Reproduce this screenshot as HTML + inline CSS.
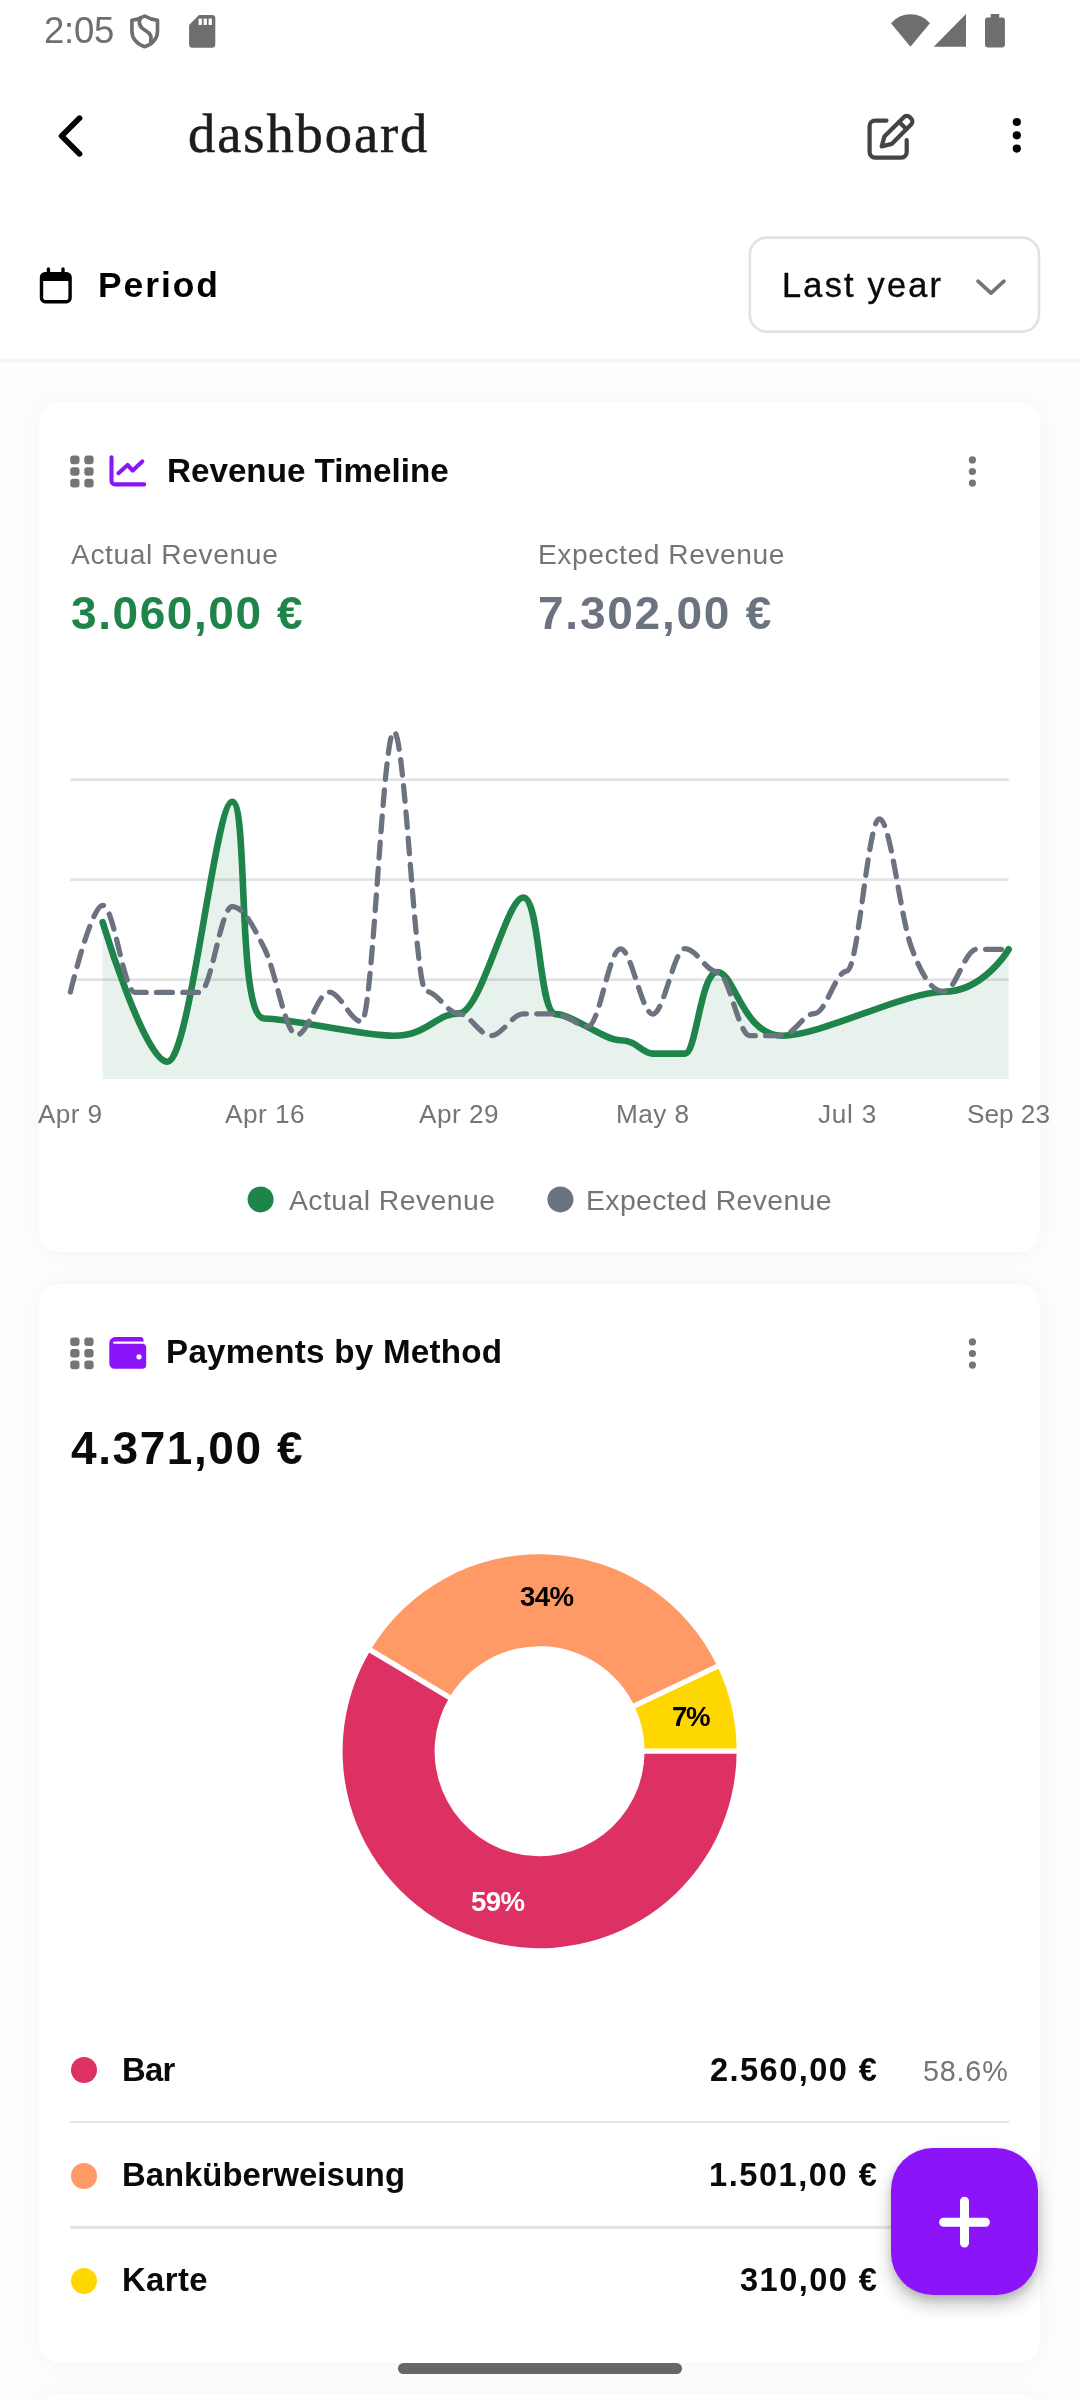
<!DOCTYPE html>
<html lang="en"><head><meta charset="utf-8"><title>dashboard</title>
<meta name="viewport" content="width=1080">
<style>
html,body{margin:0;padding:0}
body{width:1080px;height:2400px;position:relative;overflow:hidden;background:#fff;font-family:"Liberation Sans",sans-serif}
.t{position:absolute;white-space:nowrap;line-height:1;display:block;will-change:transform}
.abs{position:absolute}
.card{position:absolute;left:39px;width:1001px;background:#fff;border-radius:21px;box-shadow:0 0 22px 5px rgba(0,0,0,.034)}
svg{position:absolute;left:0;top:0;overflow:visible}
.divider{position:absolute;left:70px;width:939px;height:2.6px;background:#e4e4e4}
</style></head><body>

<div class="abs" id="scroll-bg" style="left:0;top:362px;width:1080px;height:2038px;background:#fefefe"></div>
<div class="abs" id="header-sep" style="left:0;top:359px;width:1080px;height:3px;background:#f6f6f6"></div>
<div class="card" id="card-revenue" style="top:402px;height:850px"></div>
<div class="card" id="card-payments" style="top:1284px;height:1078.5px"></div>
<div class="card" id="card-next" style="top:2394px;height:200px"></div>
<span class="t" style="left:44.30px;top:12.90px;font:400 36.5px/1 'Liberation Sans', sans-serif;color:#6e6e6e;letter-spacing:-0.260px;">2:05</span>
<svg id="status-icons" width="1080" height="70" viewBox="0 0 1080 70">
<g fill="none" stroke="#6e6e6e" stroke-width="3.6" stroke-linejoin="round" stroke-linecap="round">
<path d="M144.7,16 C149,18.6 153,19.8 157.5,20.2 V31 C157.5,39 151.5,44.2 144.7,46.8 C137.9,44.2 131.9,39 131.9,31 V20.2 C136.4,19.8 140.4,18.6 144.7,16Z"/>
<path d="M140.6,17.6 C137.6,23.5 140.2,27.6 145.6,30.6 C150.6,33.4 152.2,36.6 150.6,41.6"/>
</g>
<path fill="#6e6e6e" d="M199,15.1 H212 a3.3,3.3 0 0 1 3.3,3.3 V44.4 a3.3,3.3 0 0 1 -3.3,3.3 H192.4 a3.3,3.3 0 0 1 -3.3,-3.3 V25.1 Z"/>
<g fill="#fff"><rect x="198.6" y="18.6" width="3.3" height="6.4"/><rect x="203.6" y="18.6" width="3.3" height="6.4"/><rect x="208.6" y="18.6" width="3.3" height="6.4"/></g>
<path fill="#6e6e6e" d="M910.4,46.8 L891,23.2 A25.6,25.6 0 0 1 930,23.2 Z"/>
<path fill="#6e6e6e" d="M933.7,46.7 H966 V14 Z"/>
<path fill="#6e6e6e" d="M990.7,14 h8.5 v3.5 h3.3 a2.4,2.4 0 0 1 2.4,2.4 v25.1 a2.4,2.4 0 0 1 -2.4,2.4 h-15.1 a2.4,2.4 0 0 1 -2.4,-2.4 v-25.1 a2.4,2.4 0 0 1 2.4,-2.4 h3.3 Z"/>
</svg>
<svg id="appbar-icons" width="1080" height="200" viewBox="0 0 1080 200">
<path d="M79.6,118.1 L61.6,136 L79.6,153.9" fill="none" stroke="#000" stroke-width="5.6" stroke-linecap="round" stroke-linejoin="round"/>
<g fill="none" stroke="#444" stroke-width="4.2" stroke-linecap="round" stroke-linejoin="round">
<path d="M886.5,120.6 H875 a5.4,5.4 0 0 0 -5.4,5.4 V152.2 a5.4,5.4 0 0 0 5.4,5.4 H901.3 a5.4,5.4 0 0 0 5.4,-5.4 V140.2"/>
<path d="M881.7,146.4 L884.4,136.6 L903.8,117.2 a4.3,4.3 0 0 1 6.1,0 l1.2,1.2 a4.3,4.3 0 0 1 0,6.1 L891.7,143.9 Z"/>
<path d="M899.2,121.9 L906.3,129"/>
</g>
<g fill="#000"><circle cx="1016.8" cy="122" r="4.1"/><circle cx="1016.8" cy="135.3" r="4.1"/><circle cx="1016.8" cy="148.6" r="4.1"/></g>
</svg>
<span class="t" style="left:187.60px;top:106.96px;font:400 54.5px/1 'Liberation Serif', serif;color:#1d1d1d;letter-spacing:1.913px;-webkit-text-stroke:0.55px #1d1d1d">dashboard</span>
<svg id="period-icons" width="1080" height="360" viewBox="0 0 1080 360">
<g fill="none" stroke="#000" stroke-width="3.4" stroke-linejoin="round">
<rect x="41.5" y="273.7" width="28.6" height="28" rx="3.6"/>
</g>
<path d="M41.5,281 V277 a3.4,3.4 0 0 1 3.4,-3.4 H66.7 a3.4,3.4 0 0 1 3.4,3.4 V281 Z" fill="#000"/>
<path d="M48.4,268.9 V275 M63,268.9 V275" stroke="#000" stroke-width="3.4" stroke-linecap="round"/>
<rect x="749.8" y="237.6" width="289.2" height="94" rx="17" fill="#fff" stroke="#e2e2e2" stroke-width="2.6"/>
<path d="M978,281.2 L991,293.2 L1004,281.2" fill="none" stroke="#757575" stroke-width="3.7" stroke-linecap="round" stroke-linejoin="round"/>
</svg>
<span class="t" style="left:98.00px;top:268.03px;font:700 35.4px/1 'Liberation Sans', sans-serif;color:#000;letter-spacing:1.940px;">Period</span>
<span class="t" style="left:782.20px;top:268.37px;font:400 34.3px/1 'Liberation Sans', sans-serif;color:#0a0a0a;letter-spacing:2.246px;-webkit-text-stroke:0.4px #0a0a0a">Last year</span>
<svg id="card1-icons" width="1080" height="700" viewBox="0 0 1080 700">
<g fill="#757575"><rect x="70.2" y="455.6" width="9.3" height="8.6" rx="3"/><rect x="70.2" y="467.2" width="9.3" height="8.6" rx="3"/><rect x="70.2" y="478.8" width="9.3" height="8.6" rx="3"/><rect x="84.3" y="455.6" width="9.3" height="8.6" rx="3"/><rect x="84.3" y="467.2" width="9.3" height="8.6" rx="3"/><rect x="84.3" y="478.8" width="9.3" height="8.6" rx="3"/></g>
<g fill="none" stroke="#8b14f9" stroke-width="4.1" stroke-linecap="round" stroke-linejoin="round">
<path d="M111.5,457.2 V481 a3.4,3.4 0 0 0 3.4,3.4 H144.2"/>
<path d="M118.4,473.2 L127.6,465 L132.7,470.6 L142.3,461.4"/>
</g>
<circle cx="972.4" cy="459.9" r="3.6" fill="#757575"/><circle cx="972.4" cy="471.5" r="3.6" fill="#757575"/><circle cx="972.4" cy="483.1" r="3.6" fill="#757575"/>
</svg>
<span class="t" style="left:166.60px;top:453.60px;font:700 33.2px/1 'Liberation Sans', sans-serif;color:#0a0a0a;letter-spacing:0.006px;">Revenue Timeline</span>
<span class="t" style="left:71.20px;top:540.43px;font:400 28.2px/1 'Liberation Sans', sans-serif;color:#757575;letter-spacing:0.600px;">Actual Revenue</span>
<span class="t" style="left:537.60px;top:540.43px;font:400 28.2px/1 'Liberation Sans', sans-serif;color:#757575;letter-spacing:0.544px;">Expected Revenue</span>
<span class="t" style="left:70.80px;top:590.16px;font:700 46px/1 'Liberation Sans', sans-serif;color:#1e8449;letter-spacing:1.578px;">3.060,00 €</span>
<span class="t" style="left:538.00px;top:590.16px;font:700 46px/1 'Liberation Sans', sans-serif;color:#6b7280;letter-spacing:1.758px;">7.302,00 €</span>
<svg id="revenue-chart" width="1080" height="1300" viewBox="0 0 1080 1300">
<g stroke="#e3e3e3" stroke-width="2.6">
<line x1="70.3" y1="779.6" x2="1008.7" y2="779.6"/><line x1="70.3" y1="879.6" x2="1008.7" y2="879.6"/><line x1="70.3" y1="979.6" x2="1008.7" y2="979.6"/>
</g>
<path d="M102.66,922.20C102.66,922.20 144.72,1061.70 167.38,1061.70C190.03,1061.70 215.10,801.80 232.09,801.80C249.08,801.80 236.14,1018.50 264.45,1018.50C292.77,1018.50 359.91,1035.80 393.89,1035.80C427.86,1035.80 435.95,1013.40 458.60,1013.40C481.25,1013.40 506.33,897.50 523.32,897.50C540.31,897.50 538.69,1014.10 555.68,1014.10C572.67,1014.10 603.41,1040.30 620.40,1040.30C637.38,1040.30 641.43,1053.60 652.76,1053.60C664.08,1053.60 673.79,1053.60 685.11,1053.60C696.44,1053.60 700.48,972.00 717.47,972.00C734.46,972.00 742.55,1035.70 782.19,1035.70C821.83,1035.70 904.34,991.70 943.98,991.70C983.62,991.70 1008.70,949.30 1008.70,949.30L1008.70,1079L102.66,1079Z" fill="#1e8449" fill-opacity="0.1"/>
<path d="M102.66,922.20C102.66,922.20 144.72,1061.70 167.38,1061.70C190.03,1061.70 215.10,801.80 232.09,801.80C249.08,801.80 236.14,1018.50 264.45,1018.50C292.77,1018.50 359.91,1035.80 393.89,1035.80C427.86,1035.80 435.95,1013.40 458.60,1013.40C481.25,1013.40 506.33,897.50 523.32,897.50C540.31,897.50 538.69,1014.10 555.68,1014.10C572.67,1014.10 603.41,1040.30 620.40,1040.30C637.38,1040.30 641.43,1053.60 652.76,1053.60C664.08,1053.60 673.79,1053.60 685.11,1053.60C696.44,1053.60 700.48,972.00 717.47,972.00C734.46,972.00 742.55,1035.70 782.19,1035.70C821.83,1035.70 904.34,991.70 943.98,991.70C983.62,991.70 1008.70,949.30 1008.70,949.30" fill="none" stroke="#1e8449" stroke-width="6.6" stroke-linecap="round" stroke-linejoin="round"/>
<path d="M70.30,992.40C70.30,992.40 91.33,905.30 102.66,905.30C113.98,905.30 123.69,992.40 135.02,992.40C146.34,992.40 156.05,992.40 167.38,992.40C178.70,992.40 188.41,992.40 199.73,992.40C211.06,992.40 220.77,906.50 232.09,906.50C243.42,906.50 253.13,926.01 264.45,948.50C275.78,970.99 285.48,1035.00 296.81,1035.00C308.14,1035.00 317.84,992.00 329.17,992.00C340.49,992.00 350.20,1021.60 361.53,1021.60C372.85,1021.60 382.56,731.50 393.89,731.50C405.21,731.50 414.92,991.50 426.24,991.50C437.57,991.50 447.28,1013.60 458.60,1013.60C469.93,1013.60 479.64,1035.70 490.96,1035.70C502.29,1035.70 512.00,1013.80 523.32,1013.80C534.65,1013.80 544.35,1013.80 555.68,1013.80C567.00,1013.80 576.71,1026.30 588.04,1026.30C599.36,1026.30 609.07,948.80 620.40,948.80C631.72,948.80 641.43,1014.00 652.76,1014.00C664.08,1014.00 673.79,948.50 685.11,948.50C696.44,948.50 706.15,972.00 717.47,972.00C728.80,972.00 738.51,1035.70 749.83,1035.70C761.16,1035.70 770.86,1035.70 782.19,1035.70C793.52,1035.70 803.22,1013.50 814.55,1013.50C825.87,1013.50 835.58,971.00 846.91,971.00C858.23,971.00 867.94,818.80 879.27,818.80C890.59,818.80 900.30,917.74 911.62,948.00C922.95,978.26 932.66,991.70 943.98,991.70C955.31,991.70 965.02,949.30 976.34,949.30C987.67,949.30 1008.70,949.30 1008.70,949.30" fill="none" stroke="#6b7280" stroke-width="5.25" stroke-linecap="round" stroke-linejoin="round" stroke-dasharray="15.75 10.5" stroke-dashoffset="-0.6"/>
<circle cx="260.6" cy="1199.4" r="13" fill="#1e8449"/>
<circle cx="560.4" cy="1199.4" r="13" fill="#6b7280"/>
</svg>
<span class="t" style="left:38.24px;top:1101.12px;font:400 26.2px/1 'Liberation Sans', sans-serif;color:#757575;letter-spacing:0.376px;">Apr 9</span>
<span class="t" style="left:224.69px;top:1101.12px;font:400 26.2px/1 'Liberation Sans', sans-serif;color:#757575;letter-spacing:0.468px;">Apr 16</span>
<span class="t" style="left:418.84px;top:1101.12px;font:400 26.2px/1 'Liberation Sans', sans-serif;color:#757575;letter-spacing:0.468px;">Apr 29</span>
<span class="t" style="left:616.22px;top:1101.12px;font:400 26.2px/1 'Liberation Sans', sans-serif;color:#757575;letter-spacing:0.431px;">May 8</span>
<span class="t" style="left:817.77px;top:1101.12px;font:400 26.2px/1 'Liberation Sans', sans-serif;color:#757575;letter-spacing:0.731px;">Jul 3</span>
<span class="t" style="left:967.20px;top:1101.12px;font:400 26.2px/1 'Liberation Sans', sans-serif;color:#757575;letter-spacing:-0.007px;">Sep 23</span>
<span class="t" style="left:288.80px;top:1186.26px;font:400 28.4px/1 'Liberation Sans', sans-serif;color:#757575;letter-spacing:0.428px;">Actual Revenue</span>
<span class="t" style="left:585.50px;top:1186.26px;font:400 28.4px/1 'Liberation Sans', sans-serif;color:#757575;letter-spacing:0.376px;">Expected Revenue</span>
<svg id="card2-icons" width="1080" height="1500" viewBox="0 0 1080 1500">
<g fill="#757575"><rect x="70.2" y="1337.4" width="9.3" height="8.6" rx="3"/><rect x="70.2" y="1349.0" width="9.3" height="8.6" rx="3"/><rect x="70.2" y="1360.6" width="9.3" height="8.6" rx="3"/><rect x="84.3" y="1337.4" width="9.3" height="8.6" rx="3"/><rect x="84.3" y="1349.0" width="9.3" height="8.6" rx="3"/><rect x="84.3" y="1360.6" width="9.3" height="8.6" rx="3"/></g>
<path fill="#8b14f9" d="M109.3,1343 a6,6 0 0 1 6,-6 H140.5 a3,3 0 0 1 3,3 V1343.8 H142.2 a4,4 0 0 1 4,4 V1364.8 a4,4 0 0 1 -4,4 H114.5 a5.2,5.2 0 0 1 -5.2,-5.2 Z"/>
<path d="M114.2,1342.6 H142.6" stroke="#fff" stroke-width="2.4" stroke-linecap="round"/>
<circle cx="139" cy="1356.8" r="2.6" fill="#fff"/>
<circle cx="972.4" cy="1341.9" r="3.6" fill="#757575"/><circle cx="972.4" cy="1353.5" r="3.6" fill="#757575"/><circle cx="972.4" cy="1365.1" r="3.6" fill="#757575"/>
</svg>
<span class="t" style="left:166.40px;top:1335.30px;font:700 33.2px/1 'Liberation Sans', sans-serif;color:#0a0a0a;letter-spacing:0.246px;">Payments by Method</span>
<span class="t" style="left:71.20px;top:1425.16px;font:700 46px/1 'Liberation Sans', sans-serif;color:#0a0a0a;letter-spacing:1.578px;">4.371,00 €</span>
<svg id="payments-donut" width="1080" height="2000" viewBox="0 0 1080 2000">
<path fill="#de3163" d="M736.60,1751.20A197.0,197.0 0 1 1 370.46,1650.20L449.45,1697.37A105.0,105.0 0 1 0 644.60,1751.20Z"/><path fill="#ff9966" d="M370.46,1650.20A197.0,197.0 0 0 1 717.36,1666.29L634.35,1705.94A105.0,105.0 0 0 0 449.45,1697.37Z"/><path fill="#ffd700" d="M717.36,1666.29A197.0,197.0 0 0 1 736.60,1751.20L644.60,1751.20A105.0,105.0 0 0 0 634.35,1705.94Z"/><g stroke="#fff" stroke-width="5.3"><line x1="640.60" y1="1751.20" x2="740.60" y2="1751.20"/><line x1="452.88" y1="1699.42" x2="367.03" y2="1648.15"/><line x1="630.74" y1="1707.67" x2="720.97" y2="1664.57"/></g>
</svg>
<span class="t" style="left:471.21px;top:1887.74px;font:700 27.6px/1 'Liberation Sans', sans-serif;color:#fff;letter-spacing:-0.580px;">59%</span>
<span class="t" style="left:519.77px;top:1582.50px;font:700 27.6px/1 'Liberation Sans', sans-serif;color:#000;letter-spacing:-0.580px;">34%</span>
<span class="t" style="left:672.03px;top:1703.48px;font:700 27.6px/1 'Liberation Sans', sans-serif;color:#000;letter-spacing:-1.445px;">7%</span>
<div class="abs" style="left:70.5px;top:2057px;width:26px;height:26px;border-radius:50%;background:#de3163"></div>
<span class="t" style="left:122.30px;top:2053.73px;font:700 32.8px/1 'Liberation Sans', sans-serif;color:#0a0a0a;letter-spacing:-0.731px;">Bar</span>
<span class="t" style="left:709.54px;top:2053.80px;font:700 32.6px/1 'Liberation Sans', sans-serif;color:#0a0a0a;letter-spacing:1.441px;">2.560,00 €</span>
<span class="t" style="left:922.92px;top:2057.01px;font:400 28.7px/1 'Liberation Sans', sans-serif;color:#757575;letter-spacing:0.824px;">58.6%</span>
<div class="abs" style="left:70.5px;top:2162.5px;width:26px;height:26px;border-radius:50%;background:#ff9966"></div>
<span class="t" style="left:122.30px;top:2159.23px;font:700 32.8px/1 'Liberation Sans', sans-serif;color:#0a0a0a;letter-spacing:0.033px;">Banküberweisung</span>
<span class="t" style="left:708.64px;top:2159.30px;font:700 32.6px/1 'Liberation Sans', sans-serif;color:#0a0a0a;letter-spacing:1.541px;">1.501,00 €</span>
<span class="t" style="left:922.92px;top:2162.51px;font:400 28.7px/1 'Liberation Sans', sans-serif;color:#757575;letter-spacing:0.824px;">34.3%</span>
<div class="abs" style="left:70.5px;top:2267.5px;width:26px;height:26px;border-radius:50%;background:#ffd700"></div>
<span class="t" style="left:122.30px;top:2264.23px;font:700 32.8px/1 'Liberation Sans', sans-serif;color:#0a0a0a;letter-spacing:0.428px;">Karte</span>
<span class="t" style="left:739.55px;top:2264.30px;font:700 32.6px/1 'Liberation Sans', sans-serif;color:#0a0a0a;letter-spacing:1.450px;">310,00 €</span>
<span class="t" style="left:927.12px;top:2267.51px;font:400 28.7px/1 'Liberation Sans', sans-serif;color:#757575;letter-spacing:5.021px;">7.1%</span>
<div class="divider" style="top:2120.7px"></div>
<div class="divider" style="top:2226.2px"></div>
<div class="abs" id="fab" style="left:891px;top:2148px;width:147px;height:147px;border-radius:42px;background:#8b14f9;box-shadow:0 10px 18px rgba(0,0,0,.22),0 4px 8px rgba(0,0,0,.14)"></div>
<svg id="fab-plus" width="1080" height="2400" viewBox="0 0 1080 2400"><path d="M943.6,2222.2 H985.4 M964.5,2201.3 V2243.1" stroke="#fff" stroke-width="9" stroke-linecap="round"/></svg>
<div class="abs" id="gesture-bar" style="left:397.5px;top:2363.4px;width:284.5px;height:11px;border-radius:5.5px;background:#666"></div>
</body></html>
